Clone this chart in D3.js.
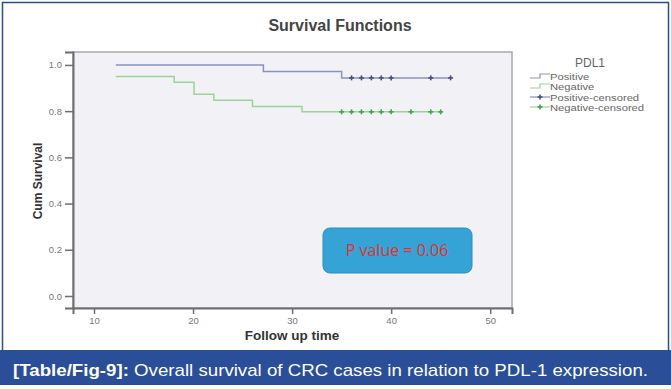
<!DOCTYPE html>
<html><head><meta charset="utf-8">
<script src="https://cdn.jsdelivr.net/npm/d3@7"></script>
<style>body{margin:0;background:#fff}svg{display:block}</style>
</head><body>
<script>
// Data
const xTicks = [10, 20, 30, 40, 50];
const yTicks = [0.0, 0.2, 0.4, 0.6, 0.8, 1.0];
const posTimes = [12.2, 27.1, 35.0, 46.0];
const posSurv  = [1.0, 0.972, 0.944, 0.944];
const negTimes = [12.2, 18.1, 20.1, 22.1, 26.0, 31.0, 44.9];
const negSurv  = [0.95, 0.925, 0.873, 0.847, 0.82, 0.797, 0.797];
const posCensored = [36, 37, 38, 39, 40, 44, 46];
const negCensored = [35, 36, 37, 38, 39, 40, 42, 44, 45];
const legendLabels = ["Positive", "Negative", "Positive-censored", "Negative-censored"];

const W = 671, H = 389;
const svg = d3.select("body").append("svg").attr("width", W).attr("height", H);

const posColor = "#8d91bd", negColor = "#9ad49a";
const posMark = "#4a5080", negMark = "#3ea84a";

// outer border
svg.append("rect").attr("x", 2.5).attr("y", 2.5).attr("width", 666).attr("height", 350)
  .attr("fill", "#fff").attr("stroke", "#2b4e8e").attr("stroke-width", 1.5);

const L = 73, R = 512, T = 52, B = 308;
const x = d3.scaleLinear().domain([7.88, 52.2]).range([L, R]);
const y = d3.scaleLinear().domain([-0.052, 1.056]).range([B, T]);

svg.append("rect").attr("x", L).attr("y", T).attr("width", R - L).attr("height", B - T)
  .attr("fill", "#f2f1f6").attr("stroke", "#a9a9ad").attr("stroke-width", 1.5);

const font = "Liberation Sans, Arial, sans-serif";

// axes
const yAxis = svg.append("g").attr("transform", `translate(${L},0)`)
  .call(d3.axisLeft(y).tickValues(yTicks).tickFormat(d3.format(".1f")).tickSize(8).tickPadding(3));
const xAxis = svg.append("g").attr("transform", `translate(0,${B})`)
  .call(d3.axisBottom(x).tickValues(xTicks).tickSize(6).tickPadding(3));
[yAxis, xAxis].forEach(g => {
  g.select(".domain").attr("stroke", "#6e6e72").attr("stroke-width", 2);
  g.selectAll(".tick line").attr("stroke", "#6e6e72").attr("stroke-width", 1.5);
  g.selectAll(".tick text").attr("fill", "#777").attr("font-family", font).attr("font-size", 9.5);
});

// step curves
const line = d3.line().x(d => x(d[0])).y(d => y(d[1])).curve(d3.curveStepAfter);
svg.append("path").datum(posTimes.map((t, i) => [t, posSurv[i]]))
  .attr("d", line).attr("fill", "none").attr("stroke", posColor).attr("stroke-width", 1.5);
svg.append("path").datum(negTimes.map((t, i) => [t, negSurv[i]]))
  .attr("d", line).attr("fill", "none").attr("stroke", negColor).attr("stroke-width", 1.5);

function stepVal(times, surv, t) {
  let v = surv[0];
  times.forEach((tt, i) => { if (tt <= t) v = surv[i]; });
  return v;
}
function plus(g, cx, cy, col) {
  g.append("line").attr("x1", cx - 2.5).attr("x2", cx + 2.5).attr("y1", cy).attr("y2", cy)
    .attr("stroke", col).attr("stroke-width", 1.6);
  g.append("line").attr("x1", cx).attr("x2", cx).attr("y1", cy - 2.5).attr("y2", cy + 2.5)
    .attr("stroke", col).attr("stroke-width", 1.6);
}
const cg = svg.append("g");
posCensored.forEach(t => plus(cg, x(t), y(stepVal(posTimes, posSurv, t)), posMark));
negCensored.forEach(t => plus(cg, x(t), y(stepVal(negTimes, negSurv, t)), negMark));

// title & axis labels
svg.append("text").attr("x", 340).attr("y", 31).attr("text-anchor", "middle")
  .attr("font-family", font).attr("font-weight", "bold").attr("font-size", 16).attr("fill", "#444")
  .text("Survival Functions");
svg.append("text").attr("transform", "translate(42,181) rotate(-90)").attr("text-anchor", "middle")
  .attr("font-family", font).attr("font-weight", "bold").attr("font-size", 12).attr("fill", "#333")
  .text("Cum Survival");
svg.append("text").attr("x", 292).attr("y", 340).attr("text-anchor", "middle")
  .attr("font-family", font).attr("font-weight", "bold").attr("font-size", 13.5).attr("fill", "#333")
  .text("Follow up time");

// legend
const lg = svg.append("g");
lg.append("text").attr("x", 590).attr("y", 67).attr("text-anchor", "middle")
  .attr("font-family", font).attr("font-size", 12).attr("fill", "#666").text("PDL1");
const rowY = [76, 86, 97, 107];
legendLabels.forEach((lab, i) => {
  const ly = rowY[i];
  if (i < 2) {
    lg.append("path").attr("d", `M530,${ly + 2}H540V${ly - 2}H550`).attr("fill", "none")
      .attr("stroke", i === 0 ? posColor : negColor).attr("stroke-width", 1.2);
  } else {
    lg.append("line").attr("x1", 530).attr("x2", 550).attr("y1", ly).attr("y2", ly)
      .attr("stroke", i === 2 ? posColor : negColor).attr("stroke-width", 1.2);
    plus(lg, 540, ly, i === 2 ? posMark : negMark);
  }
  const t = lg.append("text").attr("x", 550).attr("y", ly + 3.5).attr("font-family", font)
    .attr("font-size", 9.5).attr("fill", "#666").text(lab);
  const w = t.node().getComputedTextLength();
  t.attr("textLength", w * 1.18).attr("lengthAdjust", "spacingAndGlyphs");
});

// P value box
svg.append("rect").attr("x", 323).attr("y", 228).attr("width", 149).attr("height", 45)
  .attr("rx", 7).attr("fill", "#35a3d6").attr("stroke", "#2a8fc2").attr("stroke-width", 1);
svg.append("text").attr("x", 397).attr("y", 256).attr("text-anchor", "middle")
  .attr("font-family", "Open Sans, Liberation Sans, sans-serif").attr("font-size", 16)
  .attr("fill", "#e0332c").text("P value = 0.06");

// caption band
svg.append("rect").attr("x", 0).attr("y", 350).attr("width", W).attr("height", 35).attr("fill", "#2a4e98");
const cap = svg.append("text").attr("x", 13).attr("y", 376).attr("font-family", font)
  .attr("font-size", 17).attr("fill", "#fff").attr("textLength", 635).attr("lengthAdjust", "spacingAndGlyphs");
cap.append("tspan").attr("font-weight", "bold").text("[Table/Fig-9]:");
cap.append("tspan").text(" Overall survival of CRC cases in relation to PDL-1 expression.");
</script>
</body></html>
